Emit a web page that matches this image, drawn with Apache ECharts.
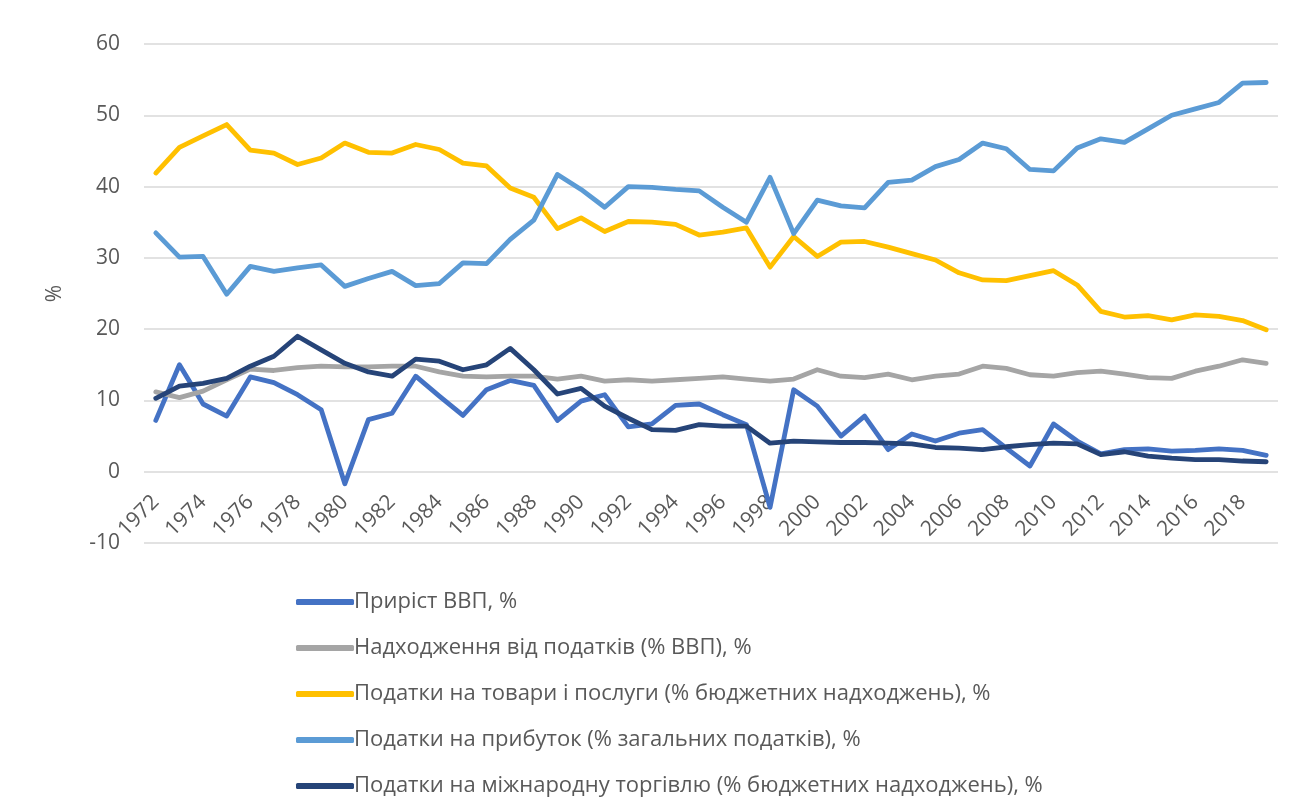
<!DOCTYPE html>
<html>
<head>
<meta charset="utf-8">
<script src="https://cdn.jsdelivr.net/npm/echarts@6/dist/echarts.min.js"></script>
<style>
html,body{margin:0;padding:0;background:#fff;}
#chart{width:1309px;height:812px;}
</style>
</head>
<body>
<div id="chart"></div>
<script>
const years = ['1972','1973','1974','1975','1976','1977','1978','1979','1980','1981',
  '1982','1983','1984','1985','1986','1987','1988','1989','1990','1991',
  '1992','1993','1994','1995','1996','1997','1998','1999','2000','2001',
  '2002','2003','2004','2005','2006','2007','2008','2009','2010','2011',
  '2012','2013','2014','2015','2016','2017','2018','2019'];

const gdpGrowth = [7.2,15.0,9.5,7.8,13.3,12.5,10.8,8.7,-1.7,7.3,
  8.2,13.4,10.6,7.9,11.5,12.8,12.1,7.2,9.9,10.8,
  6.3,6.7,9.3,9.5,8.0,6.6,-5.0,11.5,9.2,5.0,
  7.8,3.1,5.3,4.3,5.4,5.9,3.3,0.8,6.7,4.3,
  2.5,3.1,3.2,2.9,3.0,3.2,3.0,2.3];

const taxRevenue = [11.2,10.4,11.3,12.9,14.4,14.2,14.6,14.8,14.7,14.7,
  14.8,14.8,14.0,13.4,13.3,13.4,13.4,13.0,13.4,12.7,
  12.9,12.7,12.9,13.1,13.3,13.0,12.7,13.0,14.3,13.4,
  13.2,13.7,12.9,13.4,13.7,14.8,14.5,13.6,13.4,13.9,
  14.1,13.7,13.2,13.1,14.1,14.8,15.7,15.2];

const goodsTax = [41.9,45.5,47.1,48.7,45.1,44.7,43.1,44.0,46.1,44.8,
  44.7,45.9,45.2,43.3,42.9,39.8,38.5,34.1,35.6,33.7,
  35.1,35.0,34.7,33.2,33.6,34.2,28.7,33.0,30.2,32.2,
  32.3,31.5,30.6,29.7,27.9,26.9,26.8,27.5,28.2,26.2,
  22.5,21.7,21.9,21.3,22.0,21.8,21.2,19.9];

const profitTax = [33.5,30.1,30.2,24.9,28.8,28.1,28.6,29.0,26.0,27.1,
  28.1,26.1,26.4,29.3,29.2,32.6,35.3,41.7,39.6,37.1,
  40.0,39.9,39.6,39.4,37.1,35.0,41.3,33.4,38.1,37.3,
  37.0,40.6,40.9,42.8,43.8,46.1,45.3,42.4,42.2,45.4,
  46.7,46.2,48.1,50.0,50.9,51.8,54.5,54.6];

const tradeTax = [10.3,12.0,12.4,13.1,14.8,16.2,19.0,17.1,15.2,14.0,
  13.4,15.8,15.5,14.3,15.0,17.3,14.3,10.9,11.7,9.2,
  7.5,5.9,5.8,6.6,6.4,6.4,4.0,4.3,4.2,4.1,
  4.1,4.0,3.9,3.4,3.3,3.1,3.5,3.8,4.0,3.9,
  2.4,2.8,2.2,1.9,1.7,1.7,1.5,1.4];

const seriesNames = ['Приріст ВВП, %',
  'Надходження від податків (% ВВП), %',
  'Податки на товари і послуги (% бюджетних надходжень), %',
  'Податки на прибуток (% загальних податків), %',
  'Податки на міжнародну торгівлю (% бюджетних надходжень), %'];
const seriesData = [gdpGrowth, taxRevenue, goodsTax, profitTax, tradeTax];
const colors = ['#4472C4','#A5A5A5','#FFC000','#5B9BD5','#264478'];

const FONT = 'Open Sans';
const chart = echarts.init(document.getElementById('chart'), null, {renderer:'canvas'});
chart.setOption({
  animation:false,
  color: colors,
  textStyle:{fontFamily:FONT},
  grid:{left:144, right:31, top:44, bottom:269, containLabel:false},
  legend:{
    orient:'vertical', left:291, top:586,
    icon:'roundRect', itemWidth:58, itemHeight:6, itemGap:24,
    textStyle:{fontFamily:FONT, fontSize:22, color:'#595959', padding:[0,0,0,-5]},
    data: seriesNames
  },
  xAxis:{
    type:'category', data:years, boundaryGap:true,
    offset:-71.3,
    axisLine:{show:false, onZero:false},
    axisTick:{show:false},
    axisLabel:{interval:1, rotate:45, margin:27, fontFamily:FONT, fontSize:21, color:'#595959'},
    splitLine:{show:false}
  },
  yAxis:{
    type:'value', min:-10, max:60, interval:10,
    name:'%', nameLocation:'middle', nameGap:78, nameRotate:90,
    nameTextStyle:{fontFamily:FONT, fontSize:21, color:'#595959'},
    axisLine:{show:false}, axisTick:{show:false},
    axisLabel:{margin:24, fontFamily:FONT, fontSize:21, color:'#595959'},
    splitLine:{lineStyle:{color:'#d9d9d9', width:1.5}}
  },
  series: seriesData.map((d,i)=>({
    name: seriesNames[i], type:'line', data:d, symbol:'none',
    lineStyle:{width:4.8, color:colors[i], cap:'round', join:'round'},
    itemStyle:{color:colors[i]}
  }))
});
</script>
</body>
</html>
